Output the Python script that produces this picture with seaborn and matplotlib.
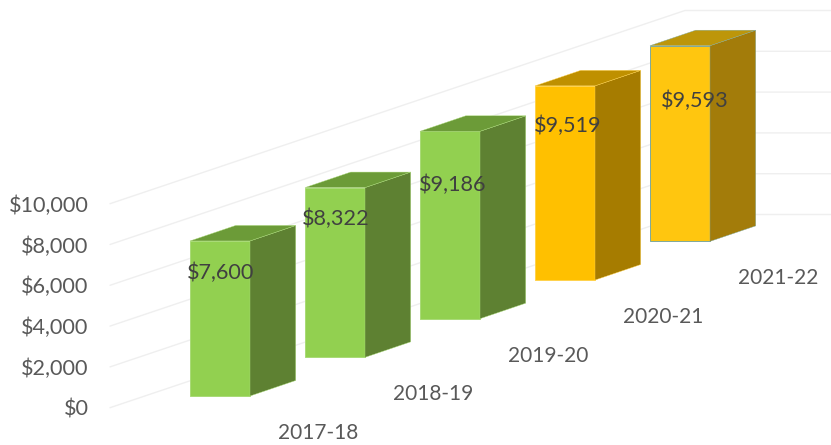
import matplotlib
matplotlib.use("Agg")
import matplotlib.pyplot as plt
from matplotlib.patches import Polygon
import seaborn as sns

years = ["2017-18", "2018-19", "2019-20", "2020-21", "2021-22"]
values = [7600, 8322, 9186, 9519, 9593]
ticks = [0, 2000, 4000, 6000, 8000, 10000]

front = ["#92D050", "#92D050", "#92D050", "#FFC000", "#FFC60F"]
side = ["#5E8132", "#5E8132", "#5E8132", "#A67C00", "#A37C0A"]
top = ["#6C9B38", "#6C9B38", "#6C9B38", "#BF9000", "#BD960A"]
edge = ["#A9DA77", "#A9DA77", "#A9DA77", "#FFD24D", "#7FA99B"]

# fake 3d layout, px to data: one category = 115px, 1000 dollars = 20.4px
W, H = 831, 445
PX_X = 1 / 115
PX_Y = 1000 / 20.4
left_px = 110
x_first = 220
y_zero = 407.7

base0 = (y_zero - 396) * PX_Y
base_step = 38.65 * PX_Y
depth_x = 45.7 * PX_X
depth_y = 15.5 * PX_Y
label_dx = [0.5, 0.5, 2.5, 2.5, 14.5]
label_drop = [32, 31, 54, 40, 54.7]

sns.set_theme(style="white")
plt.rcParams["font.family"] = ["Lato", "DejaVu Sans"]
fs = 15.6

fig = plt.figure(figsize=(W / 100, H / 100), dpi=100)
ax = fig.add_axes([left_px / W, 0, 1 - left_px / W, 1])

sns.barplot(x=years, y=values, hue=years, palette=front, saturation=1,
            width=60 * PX_X, legend=False, ax=ax, zorder=3)

# grid: floor line running back, then along the back wall
back_x = (685 - x_first) * PX_X
back_rise = 193.2 * PX_Y
x_left = (left_px - x_first) * PX_X
x_right = (W - x_first) * PX_X
for t in ticks:
    ax.plot([x_left, back_x, x_right], [t, t + back_rise, t + back_rise],
            color="#EFEFEF", lw=1, zorder=1, clip_on=False)

bars = list(ax.patches)
for i, bar in enumerate(bars):
    base = base0 + i * base_step
    bar.set_y(base)
    bar.set_edgecolor(edge[i])
    bar.set_linewidth(0.7)
    x0 = bar.get_x()
    x1 = x0 + bar.get_width()
    y1 = base + bar.get_height()
    ax.add_patch(Polygon([(x1, base), (x1 + depth_x, base + depth_y),
                          (x1 + depth_x, y1 + depth_y), (x1, y1)],
                         fc=side[i], ec=edge[i], lw=0.3, zorder=3))
    ax.add_patch(Polygon([(x0, y1), (x0 + depth_x, y1 + depth_y),
                          (x1 + depth_x, y1 + depth_y), (x1, y1)],
                         fc=top[i], ec=edge[i], lw=0.3, zorder=3))
    ax.text(i + label_dx[i] * PX_X, y1 - label_drop[i] * PX_Y, f"${values[i]:,}",
            ha="center", va="center", fontsize=fs, color="#404040", zorder=5)
    ax.text(i + 98.5 * PX_X, base - 37 * PX_Y, years[i],
            ha="center", va="center", fontsize=15, color="#595959", zorder=5)

ax.set_xlim(x_left, x_right)
ax.set_ylim(-(H - y_zero) * PX_Y, y_zero * PX_Y)
ax.set_xticks([])
ax.set_yticks(ticks)
ax.set_yticklabels([f"${t:,}" for t in ticks], fontsize=fs, color="#595959")
ax.tick_params(axis="y", length=0, pad=15.5)
ax.set_xlabel("")
ax.set_ylabel("")
sns.despine(ax=ax, left=True, bottom=True)

fig.savefig("out.png", dpi=100)
